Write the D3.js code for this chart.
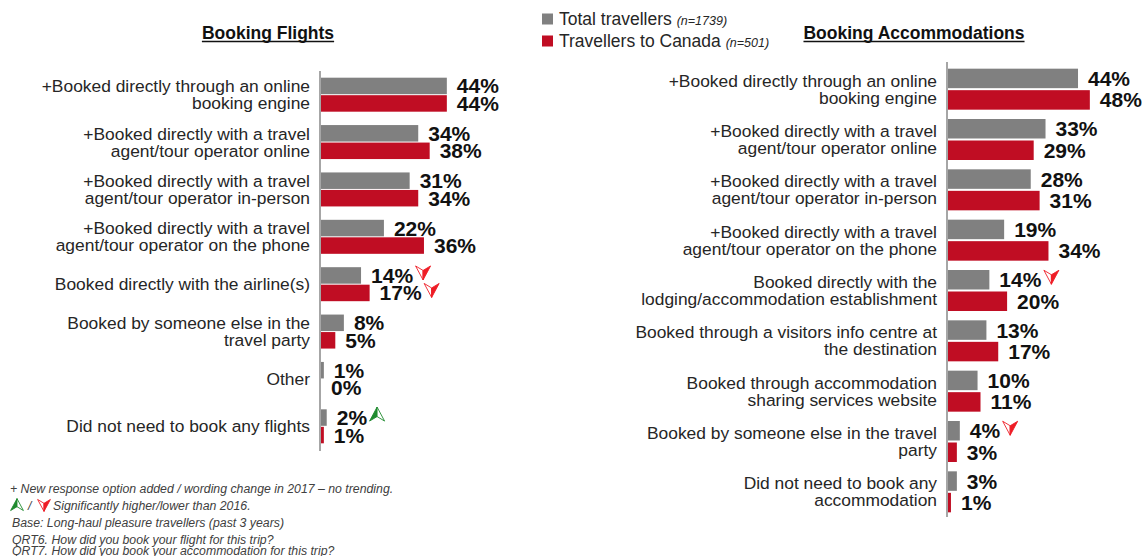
<!DOCTYPE html>
<html>
<head>
<meta charset="utf-8">
<script src="https://cdn.jsdelivr.net/npm/d3@7"></script>
<style>
  html, body { margin: 0; padding: 0; background: #fff; }
  svg { display: block; font-family: Arial, "Liberation Sans", sans-serif; }
</style>
</head>
<body>
<svg id="chart" width="1142" height="556"></svg>
<script>
// ---------- DATA ----------
const seriesNames = ["Total travellers", "Travellers to Canada"];
const seriesN = ["(n=1739)", "(n=501)"];

const flightCategories = [
  "+Booked directly through an online|booking engine",
  "+Booked directly with a travel|agent/tour operator online",
  "+Booked directly with a travel|agent/tour operator in-person",
  "+Booked directly with a travel|agent/tour operator on the phone",
  "Booked directly with the airline(s)",
  "Booked by someone else in the|travel party",
  "Other",
  "Did not need to book any flights"
];
const flightTotal  = [44, 34, 31, 22, 14, 8, 1, 2];
const flightCanada = [44, 38, 34, 36, 17, 5, 0, 1];
// significance vs 2016: 1 = higher, -1 = lower, 0 = none
const flightTotalSig  = [0, 0, 0, 0, -1, 0, 0, 1];
const flightCanadaSig = [0, 0, 0, 0, -1, 0, 0, 0];

const accomCategories = [
  "+Booked directly through an online|booking engine",
  "+Booked directly with a travel|agent/tour operator online",
  "+Booked directly with a travel|agent/tour operator in-person",
  "+Booked directly with a travel|agent/tour operator on the phone",
  "Booked directly with the|lodging/accommodation establishment",
  "Booked through a visitors info centre at|the destination",
  "Booked through accommodation|sharing services website",
  "Booked by someone else in the travel|party",
  "Did not need to book any|accommodation"
];
const accomTotal  = [44, 33, 28, 19, 14, 13, 10, 4, 3];
const accomCanada = [48, 29, 31, 34, 20, 17, 11, 3, 1];
const accomTotalSig  = [0, 0, 0, 0, -1, 0, 0, -1, 0];
const accomCanadaSig = [0, 0, 0, 0, 0, 0, 0, 0, 0];

const footnotes = [
  "+ New response option added / wording change in 2017 \u2013 no trending.",
  "Significantly higher/lower than 2016.",
  "Base: Long-haul pleasure travellers (past 3 years)",
  "QRT6. How did you book your flight for this trip?",
  "QRT7. How did you book your accommodation for this trip?"
];

// ---------- STYLE ----------
const GRAY = "#808080";
const RED = "#c00d23";
const TEXT = "#262626";
const ARROW_RED = "#ee1c25";
const ARROW_GREEN = "#1e8a2e";

const svg = d3.select("#chart");

function arrow(g, cx, cy, dir, color, k) {
  // dir -1 = down (lower), 1 = up (higher)
  const s = (dir < 0 ? 1 : -1) * (k || 1);
  const w = 7.5 * (k || 1);
  const a = g.append("g").attr("transform", `translate(${cx},${cy})`);
  a.append("path")
    .attr("d", `M${-w},${-6.5*s} L0,${-2*s} L0,${7.5*s} Z`)
    .attr("fill", dir < 0 ? "#fff" : color)
    .attr("stroke", color).attr("stroke-width", 0.9).attr("stroke-linejoin", "round");
  a.append("path")
    .attr("d", `M0,${-2*s} L${w},${-6.5*s} L0,${7.5*s} Z`)
    .attr("fill", dir < 0 ? color : "#fff")
    .attr("stroke", color).attr("stroke-width", 0.9).attr("stroke-linejoin", "round");
}

function panel(opts) {
  const { cats, total, canada, totSig, canSig, axisX, pxPerPct, yRange, axisY, barH, gap, title, titleX } = opts;
  const g = svg.append("g");
  const x = d3.scaleLinear().domain([0, 100]).range([axisX + 1, axisX + 1 + pxPerPct * 100]);
  const y = d3.scaleBand().domain(d3.range(cats.length)).range(yRange).paddingInner(0);

  // title
  const t = g.append("text")
    .attr("x", titleX).attr("y", 39)
    .attr("text-anchor", "middle")
    .attr("font-weight", "bold").attr("font-size", 17.5)
    .attr("fill", "#111")
    .text(title);
  const tw = t.node().getComputedTextLength();
  g.append("line")
    .attr("x1", titleX - tw / 2).attr("x2", titleX + tw / 2)
    .attr("y1", 41.5).attr("y2", 41.5)
    .attr("stroke", "#111").attr("stroke-width", 1.3);

  const rows = cats.map((c, i) => ({ c, i, tv: total[i], cv: canada[i], ts: totSig[i], cs: canSig[i] }));
  const row = g.selectAll("g.row").data(rows).join("g").attr("class", "row");

  // bars
  row.append("rect")
    .attr("x", x(0))
    .attr("y", d => y(d.i) + y.bandwidth() / 2 - barH - gap / 2)
    .attr("width", d => x(d.tv) - x(0))
    .attr("height", barH)
    .attr("fill", GRAY);
  row.append("rect")
    .attr("x", x(0))
    .attr("y", d => y(d.i) + y.bandwidth() / 2 + gap / 2)
    .attr("width", d => x(d.cv) - x(0))
    .attr("height", barH)
    .attr("fill", RED);

  // category labels
  row.each(function(d) {
    const lines = d.c.split("|");
    const cy = y(d.i) + y.bandwidth() / 2;
    const lh = 17;
    const t = d3.select(this).append("text")
      .attr("text-anchor", "end")
      .attr("font-size", 17.4)
      .attr("fill", TEXT);
    lines.forEach((ln, k) => {
      t.append("tspan")
        .attr("x", axisX - 10)
        .attr("y", cy + (k - (lines.length - 1) / 2) * lh)
        .attr("dy", "0.35em")
        .text(ln);
    });
  });

  // value labels + significance arrows
  row.each(function(d) {
    const sel = d3.select(this);
    const cy = y(d.i) + y.bandwidth() / 2;
    [[d.tv, d.ts, cy - barH / 2 - gap / 2], [d.cv, d.cs, cy + barH / 2 + gap / 2]].forEach(([v, sig, yy]) => {
      const lx = x(v) + 10;
      const t = sel.append("text")
        .attr("x", lx).attr("y", yy).attr("dy", "0.36em")
        .attr("font-weight", "bold").attr("font-size", 21)
        .attr("fill", "#111")
        .text(v + "%");
      if (sig !== 0) {
        const w = t.node().getComputedTextLength();
        arrow(sel, lx + w + 10, yy - 3, sig, sig < 0 ? ARROW_RED : ARROW_GREEN);
      }
    });
  });

  // axis line
  g.append("line")
    .attr("x1", axisX).attr("x2", axisX)
    .attr("y1", axisY[0]).attr("y2", axisY[1])
    .attr("stroke", "#a6a6a6").attr("stroke-width", 2);
}

panel({
  cats: flightCategories, total: flightTotal, canada: flightCanada,
  totSig: flightTotalSig, canSig: flightCanadaSig,
  axisX: 320, pxPerPct: 2.86, yRange: [71, 450], axisY: [71, 451],
  barH: 16.5, gap: 1, title: "Booking Flights", titleX: 268
});

panel({
  cats: accomCategories, total: accomTotal, canada: accomCanada,
  totSig: accomTotalSig, canSig: accomCanadaSig,
  axisX: 947, pxPerPct: 2.955, yRange: [64, 517], axisY: [62, 517],
  barH: 19.5, gap: 2, title: "Booking Accommodations", titleX: 914
});

// ---------- LEGEND ----------
const colors = [GRAY, RED];
const leg = svg.append("g");
seriesNames.forEach((name, i) => {
  const cy = 19 + i * 22;
  leg.append("rect").attr("x", 542).attr("y", cy - 5.5).attr("width", 11).attr("height", 11).attr("fill", colors[i]);
  const t = leg.append("text").attr("x", 559).attr("y", cy).attr("dy", "0.36em")
    .attr("font-size", 17.5).attr("fill", TEXT);
  t.append("tspan").text(name + " ");
  t.append("tspan").attr("font-size", 12.5).attr("font-style", "italic").text(seriesN[i]);
});

// ---------- FOOTNOTES ----------
const fn = svg.append("g").attr("font-size", 12.3).attr("font-style", "italic").attr("fill", "#404040");
fn.append("text").attr("x", 10).attr("y", 493).text(footnotes[0]);
arrow(fn, 17, 505, 1, ARROW_GREEN, 0.85);
fn.append("text").attr("x", 28).attr("y", 510).text("/");
arrow(fn, 44, 505, -1, ARROW_RED, 0.85);
fn.append("text").attr("x", 53).attr("y", 510).text(footnotes[1]);
fn.append("text").attr("x", 12).attr("y", 527).text(footnotes[2]);
fn.append("text").attr("x", 12).attr("y", 544).text(footnotes[3]);
fn.append("text").attr("x", 12).attr("y", 555).text(footnotes[4]);
</script>
</body>
</html>
